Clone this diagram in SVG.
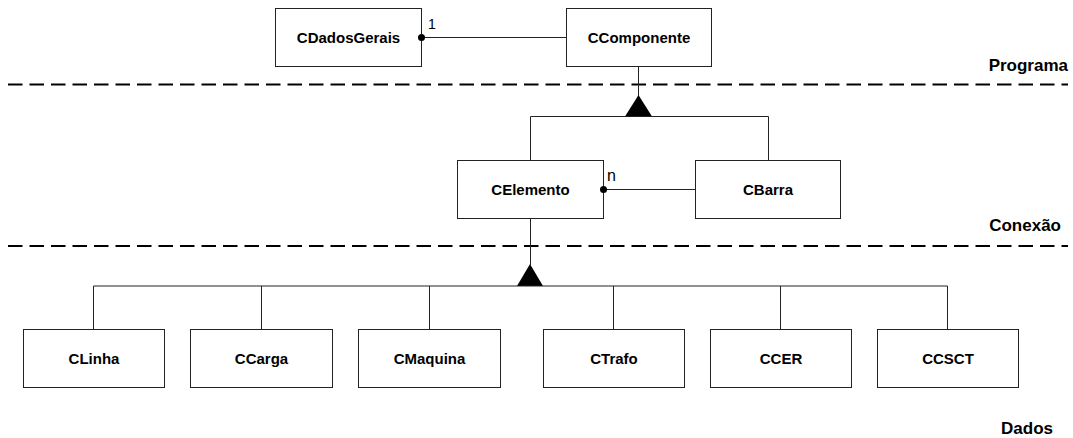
<svg xmlns="http://www.w3.org/2000/svg" width="1073" height="438" viewBox="0 0 1073 438">
<style>
.box{fill:#fff;stroke:#222;stroke-width:1}
.lbl{font-family:"Liberation Sans",Arial,sans-serif;font-weight:bold;font-size:15px;text-anchor:middle;fill:#000}
.region{font-family:"Liberation Sans",Arial,sans-serif;font-weight:bold;font-size:17px;text-anchor:end;fill:#000}
.mult{font-family:"Liberation Sans",Arial,sans-serif;font-size:16px;fill:#000}
.ln{fill:none;stroke:#222;stroke-width:1}
.dash{fill:none;stroke:#000;stroke-width:2;stroke-dasharray:14.5 7}
.tri{fill:#000}
.dot{fill:#000;stroke:none}
</style>
<rect width="1073" height="438" fill="#fff"/>
<g id="layers">
<line class="dash" x1="8" y1="84.5" x2="1068" y2="84.5"/>
<line class="dash" x1="8" y1="246" x2="1068" y2="246"/>
<text class="region" x="1068" y="71">Programa</text>
<text class="region" x="1061" y="231">Conexão</text>
<text class="region" x="1053" y="434">Dados</text>
</g>
<g id="CDadosGerais"><rect class="box" x="275.5" y="8.5" width="146" height="58"/><text class="lbl" x="348.5" y="43">CDadosGerais</text></g>
<g id="CComponente"><rect class="box" x="566.5" y="8.5" width="145" height="58"/><text class="lbl" x="639" y="43">CComponente</text></g>
<g id="CElemento"><rect class="box" x="457.5" y="160.5" width="146" height="58"/><text class="lbl" x="530.5" y="195">CElemento</text></g>
<g id="CBarra"><rect class="box" x="695.5" y="160.5" width="145" height="58"/><text class="lbl" x="768" y="195">CBarra</text></g>
<g id="CLinha"><rect class="box" x="23.5" y="329.5" width="141" height="58"/><text class="lbl" x="94" y="364">CLinha</text></g>
<g id="CCarga"><rect class="box" x="190.5" y="329.5" width="142" height="58"/><text class="lbl" x="261.5" y="364">CCarga</text></g>
<g id="CMaquina"><rect class="box" x="358.5" y="329.5" width="142" height="58"/><text class="lbl" x="429.5" y="364">CMaquina</text></g>
<g id="CTrafo"><rect class="box" x="543.5" y="329.5" width="141" height="58"/><text class="lbl" x="614" y="364">CTrafo</text></g>
<g id="CCER"><rect class="box" x="710.5" y="329.5" width="141" height="58"/><text class="lbl" x="781" y="364">CCER</text></g>
<g id="CCSCT"><rect class="box" x="877.5" y="329.5" width="141" height="58"/><text class="lbl" x="948" y="364">CCSCT</text></g>
<g id="connectors">
<line class="ln" x1="421.5" y1="37.5" x2="566.5" y2="37.5"/>
<circle class="dot" cx="421.5" cy="37.5" r="3.5"/>
<text class="mult" x="428" y="29" style="font-size:14px">1</text>
<line class="ln" x1="638.5" y1="66.5" x2="638.5" y2="96"/>
<polygon class="tri" points="638.5,95 625,116.5 652,116.5"/>
<polyline class="ln" points="530.5,160.5 530.5,116.5 768.5,116.5 768.5,160.5"/>
<line class="ln" x1="603.5" y1="189.5" x2="695.5" y2="189.5"/>
<circle class="dot" cx="603.5" cy="189.5" r="3.5"/>
<text class="mult" x="607" y="181">n</text>
<line class="ln" x1="530.5" y1="218.5" x2="530.5" y2="265"/>
<polygon class="tri" points="530,264 517,286 543,286"/>
<line class="ln" x1="93.5" y1="286" x2="947.5" y2="286"/>
<line class="ln" x1="93.5" y1="286" x2="93.5" y2="329.5"/>
<line class="ln" x1="261.5" y1="286" x2="261.5" y2="329.5"/>
<line class="ln" x1="429.5" y1="286" x2="429.5" y2="329.5"/>
<line class="ln" x1="613.5" y1="286" x2="613.5" y2="329.5"/>
<line class="ln" x1="780.5" y1="286" x2="780.5" y2="329.5"/>
<line class="ln" x1="947.5" y1="286" x2="947.5" y2="329.5"/>
</g>
</svg>
